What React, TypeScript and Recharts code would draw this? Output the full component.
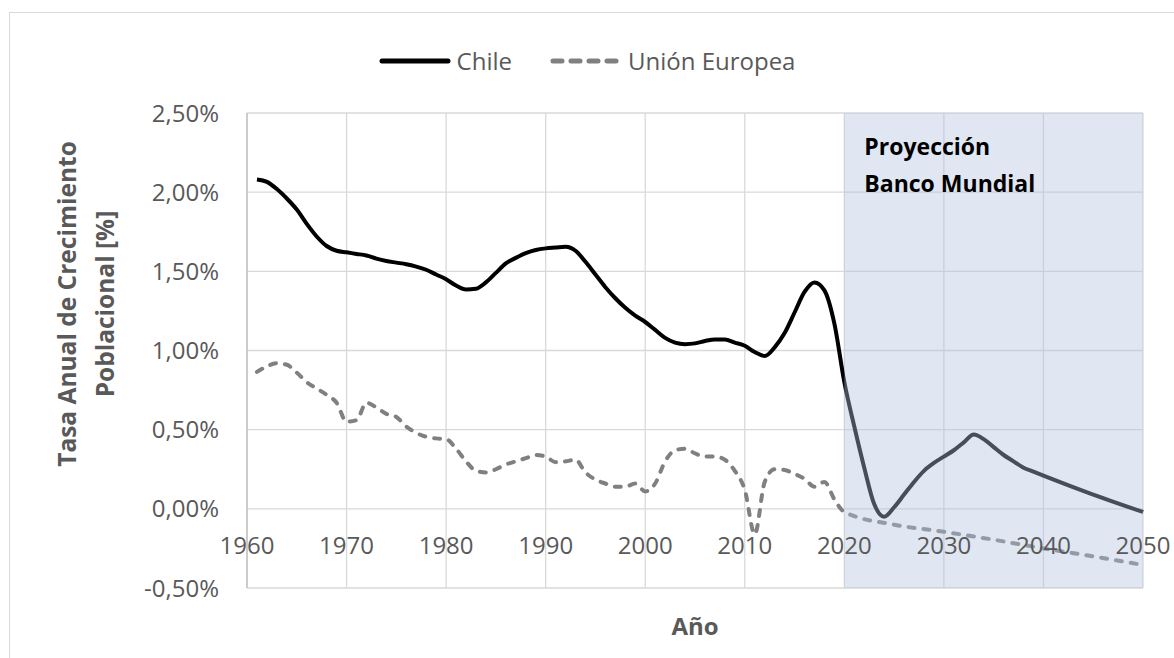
import React from "react";
import { LineChart, Line, XAxis, YAxis, CartesianGrid, ReferenceArea, Legend } from "recharts";

// Chile: annual rate (%), historical to 2020, World Bank projection after
const chileYears = [
  1961, 1962, 1963, 1964, 1965, 1966, 1967, 1968, 1969, 1970,
  1971, 1972, 1973, 1974, 1975, 1976, 1977, 1978, 1979, 1980,
  1981, 1982, 1983, 1984, 1985, 1986, 1987, 1988, 1989, 1990,
  1991, 1992, 1993, 1994, 1995, 1996, 1997, 1998, 1999, 2000,
  2001, 2002, 2003, 2004, 2005, 2006, 2007, 2008, 2009, 2010,
  2011, 2012, 2013, 2014, 2015, 2016, 2017, 2018, 2019, 2020,
  2021, 2022, 2023, 2024, 2025, 2026, 2027, 2028, 2029, 2030,
  2031, 2032, 2033, 2034, 2035, 2036, 2037, 2038, 2039, 2040,
  2045, 2050,
];
const chileRates = [
  2.08, 2.065, 2.02, 1.96, 1.89, 1.8, 1.72, 1.66, 1.63, 1.62,
  1.61, 1.6, 1.58, 1.565, 1.555, 1.545, 1.53, 1.51, 1.48, 1.45,
  1.41, 1.385, 1.39, 1.43, 1.49, 1.55, 1.585, 1.615, 1.635, 1.645,
  1.65, 1.655, 1.63, 1.56, 1.48, 1.4, 1.33, 1.27, 1.22, 1.18,
  1.13, 1.08, 1.05, 1.04, 1.045, 1.06, 1.07, 1.07, 1.05, 1.03,
  0.99, 0.965, 1.02, 1.11, 1.24, 1.37, 1.43, 1.38, 1.17, 0.8,
  0.52, 0.26, 0.03, -0.05, 0.01, 0.09, 0.17, 0.24, 0.29, 0.33,
  0.37, 0.42, 0.47, 0.44, 0.39, 0.34, 0.3, 0.26, 0.235, 0.21,
  0.09, -0.02,
];

const euYears = [
  1961, 1962, 1963, 1964, 1965, 1966, 1967, 1968, 1969, 1970,
  1971, 1972, 1973, 1974, 1975, 1976, 1977, 1978, 1979, 1980,
  1981, 1982, 1983, 1984, 1985, 1986, 1987, 1988, 1989, 1990,
  1991, 1992, 1993, 1994, 1995, 1996, 1997, 1998, 1999, 2000,
  2001, 2002, 2003, 2004, 2005, 2006, 2007, 2008, 2009, 2010,
  2011, 2012, 2013, 2014, 2015, 2016, 2017, 2018, 2019, 2020,
  2025, 2030, 2035, 2040, 2045, 2050,
];
const euRates = [
  0.865, 0.9, 0.92, 0.91, 0.86, 0.8, 0.76, 0.72, 0.67, 0.55,
  0.56, 0.67, 0.64, 0.6, 0.58, 0.52, 0.48, 0.455, 0.445, 0.44,
  0.38, 0.3, 0.24, 0.23, 0.25, 0.28, 0.3, 0.32, 0.34, 0.33,
  0.295, 0.3, 0.31, 0.23, 0.185, 0.16, 0.14, 0.14, 0.16, 0.11,
  0.16, 0.3, 0.37, 0.38, 0.35, 0.33, 0.33, 0.31, 0.24, 0.12,
  -0.16, 0.17, 0.25, 0.245, 0.22, 0.19, 0.14, 0.17, 0.06, -0.02,
  -0.1, -0.145, -0.195, -0.25, -0.3, -0.355,
];

const yearTicks = [1960, 1970, 1980, 1990, 2000, 2010, 2020, 2030, 2040, 2050];
const rateTicks = [-0.5, 0, 0.5, 1, 1.5, 2, 2.5];
const projectionStart = 2020;
const projectionEnd = 2050;

const chileData = chileYears.map((year, i) => ({ year, rate: chileRates[i] }));
const euData = euYears.map((year, i) => ({ year, rate: euRates[i] }));

const FONT = '"Open Sans", sans-serif';
const TEXT_GRAY = "#595959";

const formatRate = (v: number) => `${v.toFixed(2).replace(".", ",")}%`;

const YearTick = ({ x, y, payload }: any) => (
  <text x={x} y={y - 34} textAnchor="middle" fill={TEXT_GRAY} fontSize={24} fontFamily={FONT}>
    {payload.value}
  </text>
);

const renderYTitle = ({ viewBox }: any) => {
  const cx = viewBox.x - 92;
  const cy = 304;
  return (
    <text
      transform={`rotate(-90 ${cx} ${cy})`}
      textAnchor="middle"
      fill={TEXT_GRAY}
      fontSize={24.5}
      fontWeight="bold"
      fontFamily={FONT}
    >
      <tspan x={cx} y={cy - 19}>Tasa Anual de Crecimiento</tspan>
      <tspan x={cx} y={cy + 19}>Poblacional [%]</tspan>
    </text>
  );
};

const renderXTitle = ({ viewBox }: any) => (
  <text
    x={viewBox.x + viewBox.width / 2}
    y={viewBox.y + 47}
    textAnchor="middle"
    fill={TEXT_GRAY}
    fontSize={24}
    fontWeight="bold"
    fontFamily={FONT}
  >
    Año
  </text>
);

const renderProjectionLabel = ({ viewBox }: any) => (
  <text fill="#000" fontSize={23} fontWeight="bold" fontFamily={FONT}>
    <tspan x={viewBox.x + 20} y={viewBox.y + 42}>Proyección</tspan>
    <tspan x={viewBox.x + 20} y={viewBox.y + 79}>Banco Mundial</tspan>
  </text>
);

const legendItems = [
  { name: "Chile", color: "#000000", dash: undefined },
  { name: "Unión Europea", color: "#808080", dash: "9 9" },
];

const CustomLegend = () => (
  <div style={{ display: "flex", justifyContent: "center", alignItems: "center", height: 38, fontFamily: FONT }}>
    {legendItems.map((item, i) => (
      <div key={item.name} style={{ display: "flex", alignItems: "center", marginLeft: i ? 38 : 0 }}>
        <svg width={72} height={10}>
          <line
            x1={3}
            y1={5}
            x2={69}
            y2={5}
            stroke={item.color}
            strokeWidth={5}
            strokeLinecap="round"
            strokeDasharray={item.dash}
          />
        </svg>
        <span style={{ marginLeft: 6, fontSize: 24, color: TEXT_GRAY, lineHeight: "38px" }}>{item.name}</span>
      </div>
    ))}
  </div>
);

export default function App() {
  return (
    <div
      style={{
        position: "absolute",
        left: 0,
        top: 0,
        width: 1174,
        height: 658,
        overflow: "hidden",
        background: "#fff",
        fontFamily: FONT,
      }}
    >
      <div
        style={{
          position: "absolute",
          left: 9,
          top: 12,
          width: 1300,
          height: 800,
          border: "1px solid #d9d9d9",
        }}
      />
      <LineChart width={1174} height={658} margin={{ top: 113, right: 31, bottom: 40, left: 187 }}>
        <CartesianGrid stroke="#d9d9d9" strokeWidth={1.3} />
        <XAxis
          type="number"
          dataKey="year"
          domain={[1960, 2050]}
          ticks={yearTicks}
          axisLine={false}
          tickLine={false}
          tickSize={0}
          tickMargin={0}
          tick={<YearTick />}
          height={30}
          label={renderXTitle}
        />
        <YAxis
          type="number"
          dataKey="rate"
          domain={[-0.5, 2.5]}
          ticks={rateTicks}
          tickFormatter={formatRate}
          axisLine={{ stroke: "#bfbfbf", strokeWidth: 1.3 }}
          tickLine={false}
          tickSize={0}
          tickMargin={28}
          tick={{ fill: TEXT_GRAY, fontSize: 24, fontFamily: FONT }}
          width={60}
          label={renderYTitle}
        />
        <Legend verticalAlign="middle" wrapperStyle={{ top: 42, left: 0, width: 1174 }} content={<CustomLegend />} />
        <Line
          data={euData}
          dataKey="rate"
          name="Unión Europea"
          type="monotone"
          stroke="#808080"
          strokeWidth={4}
          strokeDasharray="6 9"
          strokeLinecap="round"
          dot={false}
          activeDot={false}
          isAnimationActive={false}
        />
        <Line
          data={chileData}
          dataKey="rate"
          name="Chile"
          type="monotone"
          stroke="#000000"
          strokeWidth={4}
          dot={false}
          activeDot={false}
          isAnimationActive={false}
        />
        <ReferenceArea
          x1={projectionStart}
          x2={projectionEnd}
          y1={-0.5}
          y2={2.5}
          fill="rgb(178,193,223)"
          fillOpacity={0.4}
          stroke="none"
          zIndex={450}
          label={renderProjectionLabel}
        />
      </LineChart>
    </div>
  );
}
